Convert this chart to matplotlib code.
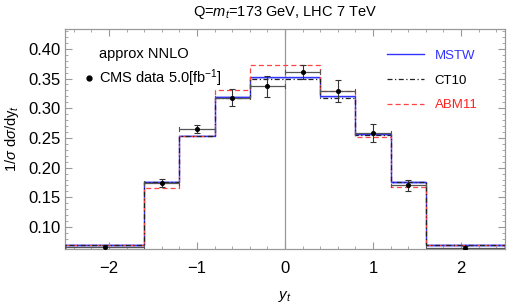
import numpy as np
import matplotlib
matplotlib.use("Agg")
import matplotlib.pyplot as plt
from matplotlib.lines import Line2D
from matplotlib.ticker import MultipleLocator

plt.rcParams["font.family"] = ["Liberation Sans", "DejaVu Sans"]
plt.rcParams["mathtext.fontset"] = "custom"
plt.rcParams["mathtext.it"] = "Liberation Sans:italic"
plt.rcParams["mathtext.rm"] = "Liberation Sans"

# Bin edges in top-quark rapidity
edges = [-2.5, -1.6, -1.2, -0.8, -0.4, 0.0, 0.4, 0.8, 1.2, 1.6, 2.5]

# Theory predictions (approx NNLO) per bin
mstw = [0.070, 0.176, 0.254, 0.319, 0.352, 0.352, 0.320, 0.256, 0.176, 0.070]
ct10 = [0.070, 0.176, 0.254, 0.318, 0.350, 0.350, 0.318, 0.255, 0.176, 0.070]
abm11 = [0.069, 0.166, 0.253, 0.331, 0.372, 0.372, 0.329, 0.252, 0.167, 0.069]
mstw_band = [0.003, 0.003, 0.003, 0.003, 0.003, 0.003, 0.003, 0.003, 0.003, 0.003]

# CMS data 5.0 fb^-1
cms_y = [0.066, 0.174, 0.265, 0.318, 0.337, 0.361, 0.329, 0.258, 0.170, 0.065]
cms_err = [0.004, 0.007, 0.0075, 0.015, 0.018, 0.0125, 0.019, 0.015, 0.010, 0.003]

edges_a = np.array(edges)
centers = 0.5 * (edges_a[1:] + edges_a[:-1])
halfw = 0.5 * (edges_a[1:] - edges_a[:-1])

fig = plt.figure(figsize=(5.07, 3.07), dpi=100)
ax = fig.add_axes([0.128, 0.189, 0.868, 0.717])

ax.axvline(0, color="#999999", lw=0.9, zorder=1)

# MSTW uncertainty band
lo = np.array(mstw) - np.array(mstw_band)
hi = np.array(mstw) + np.array(mstw_band) * 0.3
ax.fill_between(edges_a, np.append(lo, lo[-1]), np.append(hi, hi[-1]),
                step="post", color="#aab0ff", alpha=0.7, lw=0, zorder=2)

ax.stairs(mstw, edges, color="#3333ff", lw=1.0, zorder=3)
ax.stairs(ct10, edges, color="#222222", lw=0.9, ls=(0, (4, 2, 1, 2)), zorder=4)
ax.stairs(abm11, edges, color="#ff4444", lw=0.9, ls=(0, (4, 2.5)), zorder=3)

# data
ax.errorbar(centers, cms_y, xerr=halfw, fmt="none", ecolor="#555555",
            elinewidth=0.9, capsize=0, zorder=5)
ax.errorbar(centers, cms_y, yerr=cms_err, fmt="o", color="black", ms=2.6,
            ecolor="#333333", elinewidth=0.8, capsize=2, capthick=0.8, zorder=6)
for xc, hw, yv in zip(centers, halfw, cms_y):
    ax.plot([xc - hw, xc - hw], [yv - 0.003, yv + 0.003], color="#555555", lw=0.8, zorder=5)
    ax.plot([xc + hw, xc + hw], [yv - 0.003, yv + 0.003], color="#555555", lw=0.8, zorder=5)

ax.set_xlim(-2.5, 2.5)
ax.set_ylim(0.063, 0.4337)
ax.xaxis.set_major_locator(MultipleLocator(1))
ax.xaxis.set_minor_locator(MultipleLocator(0.2))
ax.yaxis.set_major_locator(MultipleLocator(0.05))
ax.yaxis.set_minor_locator(MultipleLocator(0.01))
ax.set_yticks([0.10, 0.15, 0.20, 0.25, 0.30, 0.35, 0.40])
ax.set_yticklabels(["0.10", "0.15", "0.20", "0.25", "0.30", "0.35", "0.40"])
ax.set_xticks([-2, -1, 0, 1, 2])
ax.set_xticklabels(["\u22122", "\u22121", "0", "1", "2"])
ax.tick_params(which="both", direction="in", top=True, right=True,
               color="#999999", labelsize=12)
ax.tick_params(which="major", length=5, width=0.8)
ax.tick_params(which="minor", length=2.5, width=0.6)
ax.tick_params(axis="x", pad=9)
ax.tick_params(axis="y", pad=3)
for s in ax.spines.values():
    s.set_color("#999999")
    s.set_linewidth(0.9)

ax.set_title("Q=$m_t$=173 GeV, LHC 7 TeV", fontsize=10.5, pad=9)
ax.set_ylabel(r"1/$\sigma$ d$\sigma$/dy$_t$", fontsize=10.5, labelpad=5)
ax.set_xlabel("$y_t$", fontsize=11, labelpad=9)

ax.text(0.078, 0.885, "approx NNLO", transform=ax.transAxes, fontsize=10.5,
        va="center", ha="left")
ax.plot([0.055], [0.775], "o", color="black", ms=3.5, transform=ax.transAxes)
ax.text(0.078, 0.775, "CMS data 5.0[fb$^{-1}$]", transform=ax.transAxes,
        fontsize=10.5, va="center", ha="left")

handles = [Line2D([], [], color="#3333ff", lw=1.0),
           Line2D([], [], color="#222222", lw=0.9, ls=(0, (4, 2, 1, 2))),
           Line2D([], [], color="#ff4444", lw=0.9, ls=(0, (4, 2.5)))]
leg = ax.legend(handles, ["MSTW", "CT10", "ABM11"], loc="upper right",
                bbox_to_anchor=(0.965, 0.96), frameon=False, fontsize=9.5,
                handlelength=2.8, labelspacing=0.95, handletextpad=0.8,
                labelcolor=["#3333ff", "black", "#ff2222"])

fig.savefig("out.png", dpi=100)
